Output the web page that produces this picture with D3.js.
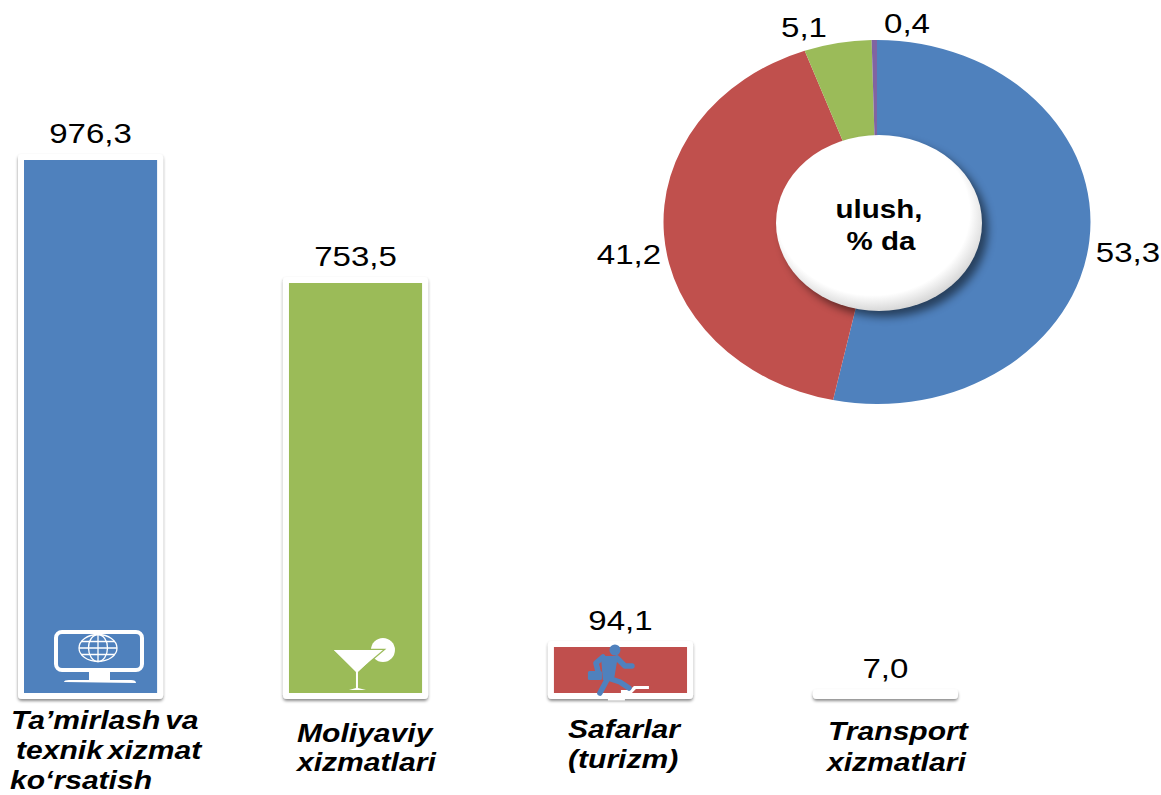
<!DOCTYPE html>
<html>
<head>
<meta charset="utf-8">
<script src="https://cdn.jsdelivr.net/npm/d3@7"></script>
<style>
  html, body { margin: 0; padding: 0; background: #fff; }
  svg { display: block; }
  text { font-family: "Liberation Sans", Arial, sans-serif; fill: #000; }
</style>
</head>
<body>
<div id="chart"></div>
<script>
// --- Data ---
const categories = ["repair", "finance", "travel", "transport"];
const barValues = [976.3, 753.5, 94.1, 7.0];
const barLabels = ["976,3", "753,5", "94,1", "7,0"];
const barColors = ["#4F81BD", "#9BBB59", "#C0504D", "#ffffff"];
const categoryLines = [
    ["Ta’mirlash va", "texnik xizmat", "ko‘rsatish"],
    ["Moliyaviy", "xizmatlari"],
    ["Safarlar", "(turizm)"],
    ["Transport", "xizmatlari"]
];

const shareValues = [53.3, 41.2, 5.1, 0.4];
const shareLabels = ["53,3", "41,2", "5,1", "0,4"];
const shareColors = ["#4F81BD", "#C0504D", "#9BBB59", "#8064A2"];
const centerLines = ["ulush,", "% da"];

// --- Layout (not data) ---
const W = 1161, H = 795;
const stretch = 1.18; // the picture is wider than tall, text is stretched with it
const lineOffsets = [ // left edge and baseline of each caption line
    [[11, 729], [16, 759], [10, 789]],
    [[297, 742], [297, 771]],
    [[568, 738], [568, 768]],
    [[828, 740], [827, 771]]
];
const pieCx = 877, pieCy = 222, pieRx = 213.5, pieRy = 182;
const holeCx = 879, holeCy = 223, holeRx = 103, holeRy = 88;
const pieLabelPos = [[1128, 262], [629, 264], [804, 37], [907, 33]];
const centerLinePos = [[879, 218], [881, 250]];

const svg = d3.select("#chart").append("svg")
    .attr("width", W)
    .attr("height", H)
    .attr("viewBox", `0 0 ${W} ${H}`);

const defs = svg.append("defs");
// user space region: the 7,0 bar is too thin for a bounding box filter
const barShadow = defs.append("filter").attr("id", "barShadow")
    .attr("filterUnits", "userSpaceOnUse")
    .attr("x", 0).attr("y", 0).attr("width", W).attr("height", H);
barShadow.append("feDropShadow")
    .attr("dx", 0).attr("dy", 2).attr("stdDeviation", 1.6)
    .attr("flood-color", "#000").attr("flood-opacity", 0.45);

const holeBlur = defs.append("filter").attr("id", "holeBlur")
    .attr("x", "-20%").attr("y", "-20%").attr("width", "140%").attr("height", "140%");
holeBlur.append("feGaussianBlur").attr("stdDeviation", 4);

const holeFill = defs.append("radialGradient").attr("id", "holeFill")
    .attr("cx", "47%").attr("cy", "44%").attr("r", "56%");
holeFill.append("stop").attr("offset", "84%").attr("stop-color", "#ffffff");
holeFill.append("stop").attr("offset", "100%").attr("stop-color", "#d8d8d8");

// --- Scales ---
const xScale = d3.scaleBand()
    .domain(categories)
    .range([21, 955])
    .paddingInner(0.475)
    .paddingOuter(0);

const yScale = d3.scaleLinear()
    .domain([0, d3.max(barValues)])
    .range([696, 157]);

// --- Bars: white frame + shadow comes from the stroke of one rect ---
const rows = categories.map((c, i) => ({ c, i, value: barValues[i] }));

const barGroup = svg.selectAll("g.bar")
    .data(rows)
    .join("g")
    .attr("class", "bar");

barGroup.append("rect")
    .attr("x", d => xScale(d.c))
    .attr("y", d => yScale(d.value))
    .attr("width", xScale.bandwidth())
    .attr("height", d => yScale(0) - yScale(d.value))
    .attr("rx", 1)
    .attr("fill", d => barColors[d.i])
    .attr("stroke", "#fff")
    .attr("stroke-width", 6)
    .attr("stroke-linejoin", "round")
    .attr("filter", "url(#barShadow)");

// Value text above each bar
barGroup.append("text")
    .text(d => barLabels[d.i])
    .attr("transform", d => `translate(${xScale(d.c) + xScale.bandwidth() / 2},${yScale(d.value) - 14}) scale(${stretch},1)`)
    .attr("text-anchor", "middle")
    .style("font-size", "28px");

// Captions under the bars
categoryLines.forEach((lines, i) => {
    lines.forEach((line, j) => {
        svg.append("text")
            .text(line)
            .attr("transform", `translate(${lineOffsets[i][j][0]},${lineOffsets[i][j][1]}) scale(${stretch},1)`)
            .style("font-size", "25.5px")
            .style("font-weight", "bold")
            .style("font-style", "italic")
            .style("word-spacing", "-3px");
    });
});

// --- Icons inside the bars ---
const monitor = svg.append("g").attr("transform", `translate(${xScale(categories[0])},${yScale(0)})`)
    .attr("fill", "none").attr("stroke", "#fff");
monitor.append("rect").attr("x", 35).attr("y", -64).attr("width", 86).attr("height", 38).attr("rx", 6).attr("stroke-width", 4);
monitor.append("rect").attr("x", 68).attr("y", -24).attr("width", 21).attr("height", 10).attr("fill", "#fff").attr("stroke", "none");
monitor.append("path").attr("d", "M43,-14Q43,-16 48,-16H110Q115,-16 115,-13Z").attr("fill", "#fff").attr("stroke", "none");
const globe = monitor.append("g").attr("transform", "translate(77,-48)").attr("stroke-width", 1.3);
globe.append("ellipse").attr("rx", 19).attr("ry", 13.5);
globe.append("ellipse").attr("rx", 9.5).attr("ry", 13.5);
globe.append("path").attr("d", "M0,-13.5V13.5M-19,0H19M-17,-6.5H17M-17,6.5H17");

const martini = svg.append("g").attr("transform", `translate(${xScale(categories[1])},${yScale(0)})`);
martini.append("circle").attr("cx", 97).attr("cy", -46).attr("r", 12).attr("fill", "#fff");
martini.append("path").attr("d", "M48,-46H97L71,-24Z")
    .attr("fill", "#fff").attr("stroke", "#9BBB59").attr("stroke-width", 2.5).attr("paint-order", "stroke");
martini.append("path").attr("d", "M48,-46H95L72,-24V-8L80,-6H63L70,-8V-24Z").attr("fill", "#fff");

const runner = svg.append("g").attr("transform", `translate(${xScale(categories[2])},${yScale(0)})`);
runner.append("path")
    .attr("d", "M83,-10H98V-7H85L81,-3H70V-6H79ZM57,2H74V4.5H57Z")
    .attr("fill", "#fff");
runner.append("circle").attr("cx", 64).attr("cy", -46).attr("r", 5.5).attr("fill", "#4F81BD");
runner.append("path")
    .attr("d", "M52,-39L45,-33L47,-25M66,-38L74,-30H81M57,-18L49,-3M57,-18L69,-14L78,-8")
    .attr("fill", "none").attr("stroke", "#4F81BD").attr("stroke-width", 5.5)
    .attr("stroke-linecap", "round").attr("stroke-linejoin", "round");
runner.append("path").attr("d", "M50,-40H67L63,-16H52Z").attr("fill", "#4F81BD");
runner.append("rect").attr("x", 37).attr("y", -25).attr("width", 14).attr("height", 9).attr("rx", 1.5).attr("fill", "#4F81BD");

// --- Doughnut: round arcs squeezed into the tilted ellipse ---
const pie = d3.pie().sort(null).value(d => d);
const arc = d3.arc().innerRadius(0).outerRadius(pieRx);

const pieGroup = svg.append("g")
    .attr("transform", `translate(${pieCx},${pieCy}) scale(1,${pieRy / pieRx})`);

pieGroup.selectAll("path")
    .data(pie(shareValues))
    .join("path")
    .attr("d", arc)
    .attr("fill", (d, i) => shareColors[i]);

svg.selectAll("text.share")
    .data(shareLabels)
    .join("text")
    .attr("class", "share")
    .text(d => d)
    .attr("transform", (d, i) => `translate(${pieLabelPos[i][0]},${pieLabelPos[i][1]}) scale(${stretch},1)`)
    .attr("text-anchor", "middle")
    .style("font-size", "28px");

// Hole in the middle, raised with a shadow
svg.append("ellipse")
    .attr("cx", holeCx + 6).attr("cy", holeCy + 6)
    .attr("rx", holeRx).attr("ry", holeRy)
    .attr("fill", "#000").attr("opacity", 0.5)
    .attr("filter", "url(#holeBlur)");
svg.append("ellipse")
    .attr("cx", holeCx).attr("cy", holeCy)
    .attr("rx", holeRx).attr("ry", holeRy)
    .attr("fill", "url(#holeFill)");

centerLines.forEach((line, i) => {
    svg.append("text")
        .text(line)
        .attr("transform", `translate(${centerLinePos[i][0]},${centerLinePos[i][1]}) scale(${stretch},1)`)
        .attr("text-anchor", "middle")
        .style("font-size", "25px")
        .style("font-weight", "bold");
});
</script>
</body>
</html>
